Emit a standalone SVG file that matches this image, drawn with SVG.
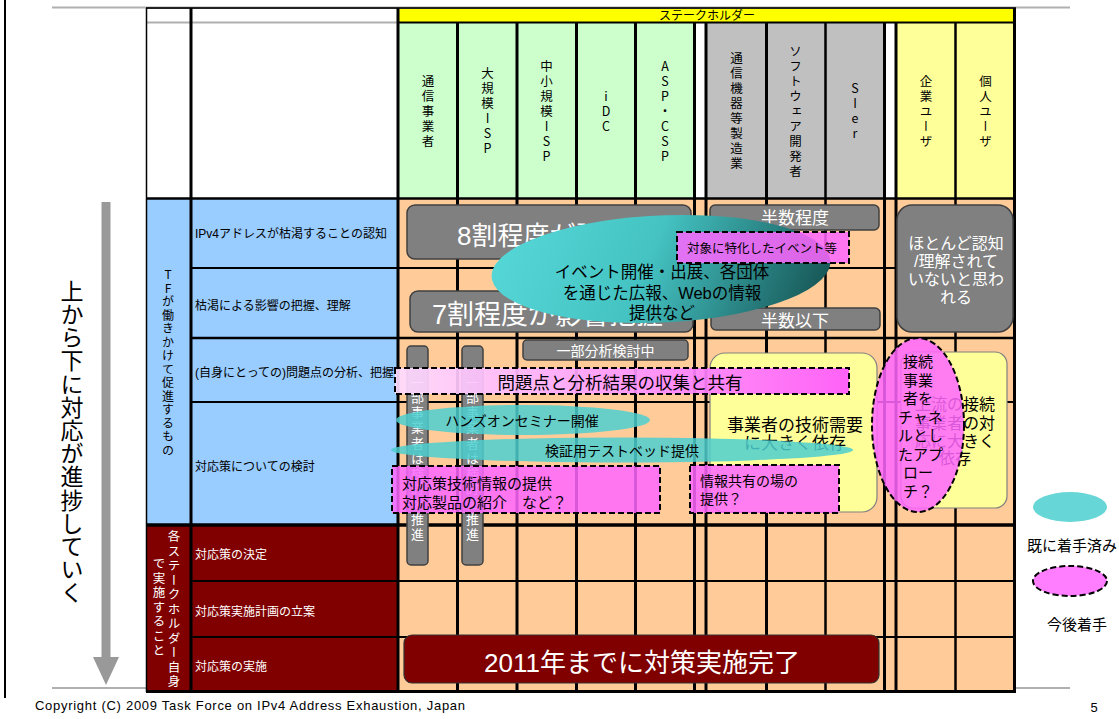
<svg xmlns="http://www.w3.org/2000/svg" width="1119" height="719" viewBox="0 0 1119 719">
<defs>
<linearGradient id="gTeal" x1="0" y1="0" x2="1" y2="0">
<stop offset="0" stop-color="#55D6D6"/>
<stop offset="0.45" stop-color="#45C3C3"/>
<stop offset="1" stop-color="#185858"/>
</linearGradient>
<linearGradient id="gPink" x1="0" y1="0" x2="1" y2="0">
<stop offset="0" stop-color="#FFDDFF"/>
<stop offset="1" stop-color="#FF55FF"/>
</linearGradient>
</defs>
<style>
text { font-family: "Liberation Sans","Noto Sans CJK JP",sans-serif; fill:#000; }
.v { font-family: "Noto Sans CJK JP",sans-serif; writing-mode: vertical-rl; text-orientation: upright; text-anchor: middle; }
.hd { font-size:12.5px; letter-spacing:2.5px; }
.lbl { font-size:12px; }
.wt { fill:#fff; }
.gbox { fill:#808080; stroke:#404040; stroke-width:1.5; }
.pink { fill:#FF66FF; fill-opacity:0.85; stroke:#000; stroke-width:2; stroke-dasharray:6 3; }
.cyan { fill:#4CCFCF; fill-opacity:0.85; }
.yel { fill:#FFFF99; stroke:#808080; stroke-width:1.2; }
.ln { stroke:#000; fill:none; }
.gl { stroke:#B0B0B0; stroke-width:2; fill:none; }
.mid { text-anchor:middle; }
</style>
<rect width="1119" height="719" fill="#fff"/>
<g id="page">
<line x1="5" y1="0" x2="5" y2="698" stroke="#000" stroke-width="2"/>
<line class="gl" x1="52" y1="7.5" x2="1070" y2="7.5"/>
<line class="gl" x1="52" y1="688" x2="1070" y2="688"/>
<text x="35" y="710" font-size="13" textLength="430" lengthAdjust="spacing">Copyright (C) 2009 Task Force on IPv4 Address Exhaustion, Japan</text>
<text x="1094" y="712" font-size="13" class="mid">5</text>
</g>
<g id="table">
<rect x="146" y="8" width="252" height="190" fill="#fff"/>
<line class="gl" x1="146" y1="22.5" x2="398" y2="22.5"/>
<rect x="146" y="199" width="252" height="326" fill="#99CCFF"/>
<rect x="146" y="525" width="252" height="167" fill="#800000"/>
<rect x="398" y="198" width="617" height="494" fill="#FFCC99"/>
<rect x="398" y="8" width="617" height="14.5" fill="#FFFF00"/>
<rect x="398" y="22" width="297" height="176" fill="#CCFFCC"/>
<rect x="695" y="22" width="11" height="176" fill="#fff"/>
<rect x="706" y="22" width="179" height="176" fill="#C0C0C0"/>
<rect x="885" y="22" width="11" height="176" fill="#fff"/>
<rect x="896" y="22" width="119" height="176" fill="#FFFF99"/>
<g class="ln">
<line x1="146" y1="8" x2="1016" y2="8" stroke="#222" stroke-width="2"/>
<line x1="146.5" y1="8" x2="146.5" y2="692" stroke-width="1.5"/>
<line x1="191" y1="8" x2="191" y2="692" stroke-width="3"/>
<line x1="398" y1="8" x2="398" y2="692" stroke-width="3"/>
<line x1="1014.5" y1="8" x2="1014.5" y2="692" stroke-width="3"/>
<line x1="398" y1="22.5" x2="1015" y2="22.5" stroke-width="1.8"/>
<line x1="457.5" y1="22" x2="457.5" y2="692" stroke-width="3"/>
<line x1="517" y1="22" x2="517" y2="692" stroke-width="3"/>
<line x1="576.5" y1="22" x2="576.5" y2="692" stroke-width="3"/>
<line x1="635.5" y1="22" x2="635.5" y2="692" stroke-width="3"/>
<line x1="694.5" y1="22" x2="694.5" y2="692" stroke-width="3"/>
<line x1="706" y1="22" x2="706" y2="692" stroke-width="3"/>
<line x1="766.5" y1="22" x2="766.5" y2="692" stroke-width="3"/>
<line x1="825.5" y1="22" x2="825.5" y2="692" stroke-width="2.5"/>
<line x1="884.5" y1="22" x2="884.5" y2="692" stroke-width="3"/>
<line x1="896" y1="22" x2="896" y2="692" stroke-width="3"/>
<line x1="955.5" y1="22" x2="955.5" y2="692" stroke-width="2.5"/>
<line x1="146" y1="198.5" x2="1015" y2="198.5" stroke-width="2.5"/>
<line x1="191" y1="268" x2="1015" y2="268" stroke-width="2"/>
<line x1="191" y1="338" x2="1015" y2="338" stroke-width="2.5"/>
<line x1="191" y1="402" x2="1015" y2="402" stroke-width="2"/>
<line x1="146" y1="525" x2="1015" y2="525" stroke-width="3.5"/>
<line x1="191" y1="581" x2="1015" y2="581" stroke-width="2"/>
<line x1="191" y1="637" x2="1015" y2="637" stroke-width="2"/>
<line x1="146" y1="691.5" x2="1016" y2="691.5" stroke-width="3"/>
</g>
</g>
<g id="header">
<text x="707" y="19.5" font-size="12" class="mid">ステークホルダー</text>
<text class="v hd" x="428" y="112">通信事業者</text>
<text class="v hd" x="487.5" y="112">大規模ISP</text>
<text class="v hd" x="546.5" y="112">中小規模ISP</text>
<text class="v hd" x="606" y="112">iDC</text>
<text class="v hd" x="665" y="112">ASP・CSP</text>
<text class="v hd" x="736.5" y="112">通信機器等製造業</text>
<text class="v hd" x="795.5" y="112">ソフトウェア開発者</text>
<text class="v hd" x="855" y="112">SIer</text>
<text class="v hd" x="926" y="112">企業ユーザ</text>
<text class="v hd" x="985.5" y="112">個人ユーザ</text>
</g>
<g id="rows">
<text class="v" x="168" y="363" font-size="12" letter-spacing="1.5">TFが働きかけて促進するもの</text>
<text class="v wt" x="174" y="610" font-size="12.5" letter-spacing="2">各ステークホルダー自身</text>
<text class="v wt" x="159" y="608" font-size="12.5" letter-spacing="2">で実施すること</text>
<text class="lbl" x="195" y="238">IPv4アドレスが枯渇することの認知</text>
<text class="lbl" x="195" y="310">枯渇による影響の把握、理解</text>
<text class="lbl" x="195" y="377">(自身にとっての)問題点の分析、把握</text>
<text class="lbl" x="195" y="471">対応策についての検討</text>
<text class="lbl wt" x="195" y="559">対応策の決定</text>
<text class="lbl wt" x="195" y="616">対応策実施計画の立案</text>
<text class="lbl wt" x="195" y="671">対応策の実施</text>
</g>
<g id="progress">
<text class="v" x="72" y="442" font-size="23" letter-spacing="0.2">上から下に対応が進捗していく</text>
</g>
<g id="connectors">
<rect x="101.5" y="202" width="9" height="456" fill="#999"/>
<polygon points="93,657 119,657 106,685" fill="#999"/>
</g>
<g id="node-yellow1">
<rect class="yel" x="710" y="353" width="167" height="159" rx="15"/>
<text x="795" y="431" font-size="17" class="mid">事業者の技術需要</text>
<text x="795" y="449" font-size="17" class="mid">に大きく依存</text>
</g>
<g id="node-yellow2">
<rect class="yel" x="901" y="352" width="106" height="156" rx="12"/>
<text x="955" y="410" font-size="16" class="mid">上流の接続</text>
<text x="955" y="429" font-size="16" class="mid">事業者の対</text>
<text x="955" y="447" font-size="16" class="mid">応に大きく</text>
<text x="955" y="464" font-size="16" class="mid">依存</text>
</g>
<g id="node-8wari">
<rect class="gbox" x="407" y="205" width="284" height="54" rx="8"/>
<text class="wt" x="457" y="245" font-size="26">8割程度が認知</text>
</g>
<g id="node-7wari">
<rect class="gbox" x="410" y="291" width="283" height="41" rx="8"/>
<text class="wt" x="432" y="324" font-size="27">7割程度が影響把握</text>
</g>
<g id="node-hansu1">
<rect class="gbox" x="710" y="205" width="169" height="25" rx="5"/>
<text class="wt mid" x="795" y="223.5" font-size="17">半数程度</text>
</g>
<g id="node-hansu2">
<rect class="gbox" x="711" y="308" width="169" height="22" rx="5"/>
<text class="wt mid" x="795" y="327" font-size="17">半数以下</text>
</g>
<g id="node-hotondo">
<rect class="gbox" x="897" y="205" width="116" height="127" rx="15"/>
<text class="wt mid" x="956" y="249" font-size="16">ほとんど認知</text>
<text class="wt mid" x="956" y="267" font-size="16">/理解されて</text>
<text class="wt mid" x="956" y="285" font-size="16">いないと思わ</text>
<text class="wt mid" x="956" y="303" font-size="16">れる</text>
</g>
<g id="node-ichibu">
<rect class="gbox" x="523" y="340" width="165" height="20" rx="4"/>
<text class="wt mid" x="605.5" y="355.5" font-size="14">一部分析検討中</text>
</g>
<g id="node-bar1">
<rect class="gbox" x="407" y="346" width="21" height="219" rx="4"/>
<text class="v wt" x="417.5" y="459" font-size="13" letter-spacing="2.2">一部事業者は検討を推進</text>
</g>
<g id="node-bar2">
<rect class="gbox" x="462" y="346" width="21" height="219" rx="4"/>
<text class="v wt" x="472.5" y="459" font-size="13" letter-spacing="2.2">一部事業者は検討を推進</text>
</g>
<g id="node-event">
<ellipse cx="0" cy="0" rx="168" ry="54" fill="url(#gTeal)" transform="translate(661 269) skewX(-22)"/>
<text x="662" y="278" font-size="16.5" class="mid">イベント開催・出展、各団体</text>
<text x="662" y="299" font-size="16.5" class="mid">を通じた広報、Webの情報</text>
<text x="662" y="319" font-size="16.5" class="mid">提供など</text>
</g>
<g id="node-taisho">
<rect class="pink" x="677" y="232" width="172" height="31"/>
<text x="687" y="252.5" font-size="12.5">対象に特化したイベント等</text>
</g>
<g id="node-mondai">
<rect x="395" y="368" width="454" height="26" fill="url(#gPink)" fill-opacity="0.92" stroke="#000" stroke-width="2" stroke-dasharray="6 3"/>
<text x="620" y="389" font-size="17.5" class="mid">問題点と分析結果の収集と共有</text>
</g>
<g id="node-hands">
<ellipse class="cyan" cx="523" cy="420" rx="127" ry="15"/>
<text x="522" y="426" font-size="14" class="mid">ハンズオンセミナー開催</text>
</g>
<g id="node-testbed">
<ellipse class="cyan" cx="622" cy="450" rx="231" ry="12.5"/>
<text x="622" y="456" font-size="14" class="mid">検証用テストベッド提供</text>
</g>
<g id="node-gijutsu">
<rect class="pink" x="392" y="466" width="268" height="47"/>
<text x="402" y="489" font-size="15">対応策技術情報の提供</text>
<text x="402" y="508" font-size="15">対応製品の紹介　など？</text>
</g>
<g id="node-joho">
<rect class="pink" x="690" y="465" width="149" height="48"/>
<text x="700" y="486" font-size="14">情報共有の場の</text>
<text x="700" y="504" font-size="14">提供？</text>
</g>
<g id="node-setsuzoku">
<ellipse class="pink" cx="918" cy="425" rx="46" ry="87"/>
<text x="903" y="367" font-size="15">接続</text>
<text x="903" y="386" font-size="15">事業</text>
<text x="903" y="404" font-size="15">者を</text>
<text x="898" y="423" font-size="15">チャネ</text>
<text x="898" y="441" font-size="15">ルとし</text>
<text x="898" y="460" font-size="15">たアプ</text>
<text x="903" y="478" font-size="15">ロー</text>
<text x="903" y="497" font-size="15">チ？</text>
</g>
<g id="node-2011">
<rect x="404" y="635" width="475" height="48" rx="8" fill="#800000" stroke="#333" stroke-width="1.2"/>
<text class="wt mid" x="642" y="672" font-size="26">2011年までに対策実施完了</text>
</g>
<g id="legend">
<ellipse class="cyan" cx="1070" cy="507" rx="37" ry="15"/>
<text x="1027" y="551" font-size="15">既に着手済み</text>
<ellipse class="pink" cx="1070" cy="581" rx="37" ry="15"/>
<text x="1077" y="630" font-size="15" class="mid">今後着手</text>
</g>
</svg>
